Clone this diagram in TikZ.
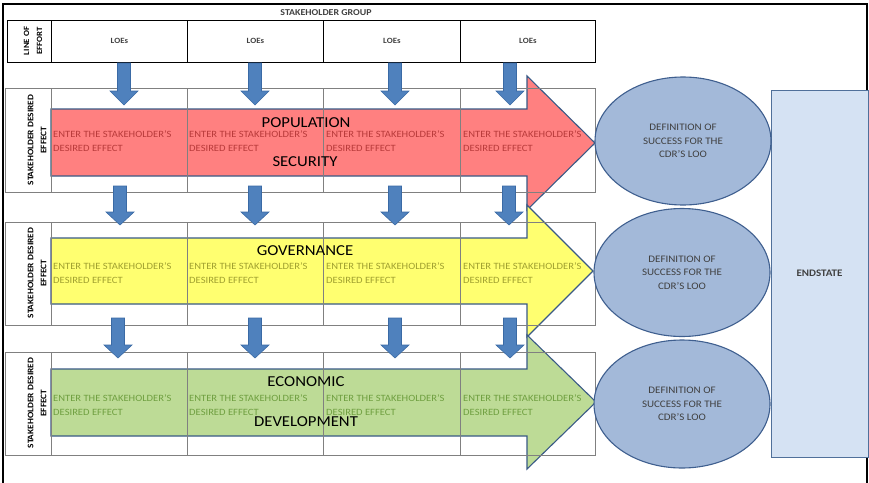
\documentclass[tikz,border=0pt]{standalone}
\usepackage{fontspec}
\setmainfont{Carlito}[FakeStretch=1.1]
\usetikzlibrary{shapes.geometric}
\definecolor{redfill}{HTML}{FF8080}
\definecolor{redtext}{HTML}{B83A3A}
\definecolor{yelfill}{HTML}{FFFF70}
\definecolor{yeltext}{HTML}{A0A030}
\definecolor{grnfill}{HTML}{BDDB96}
\definecolor{grntext}{HTML}{6F9F40}
\definecolor{arrborder}{HTML}{3A5A86}
\definecolor{bluefill}{HTML}{4F81BD}
\definecolor{blueline}{HTML}{3A6AA5}
\definecolor{loofill}{HTML}{A3B9D9}
\definecolor{looline}{HTML}{3F5F8F}
\definecolor{endfill}{HTML}{D5E2F3}
\definecolor{endline}{HTML}{50709A}
\definecolor{gridgray}{HTML}{808080}
\definecolor{darktext}{HTML}{404040}
\newcommand\bluedown[4]{\filldraw[bluearr] ({#1-6.5},#2) -- ({#1+6.5},#2) -- ({#1+6.5},#3) -- ({#1+14},#3) -- (#1,#4) -- ({#1-14},#3) -- ({#1-6.5},#3) -- cycle;}
\begin{document}
\begin{tikzpicture}[x=1pt,y=-1pt,
  frame/.style={draw=black,line width=1.3pt},
  hdrcell/.style={draw=black,line width=0.8pt,minimum height=42pt,inner sep=0pt,anchor=north west,
     font=\fontsize{8}{10}\selectfont\bfseries,text=darktext},
  grid/.style={draw=gridgray,line width=0.7pt},
  bigarrow/.style={draw=arrborder,line width=1.1pt,line join=miter},
  bluearr/.style={fill=bluefill,draw=blueline,line width=0.6pt},
  loo/.style={ellipse,draw=looline,line width=1.1pt,fill=loofill,minimum width=176pt,minimum height=128pt,
     inner sep=0pt,align=center,text=darktext,font=\fontsize{10}{13.3}\selectfont},
  endbox/.style={draw=endline,line width=1pt,fill=endfill,minimum width=97pt,minimum height=367pt,inner sep=0pt,
     font=\fontsize{10}{12}\selectfont\bfseries,text=darktext},
  celltext/.style={anchor=west,inner sep=0pt,align=left,font=\fontsize{9.6}{14}\selectfont},
  biglabel/.style={inner sep=0pt,font=\fontsize{15.2}{18}\selectfont,text=black},
  rotlabel/.style={rotate=90,inner sep=0pt,align=center,font=\fontsize{8.5}{13}\selectfont\bfseries,text=black},
]
\useasboundingbox (0,0) rectangle (869,482);
\fill[white] (0,0) rectangle (869,482);
% outer frame
\draw[frame] (3,4) rectangle (867,495);
% header
\node[inner sep=0pt,font=\fontsize{9}{11}\selectfont\bfseries,text=darktext] (grp) at (326,13) {STAKEHOLDER GROUP};
\node[hdrcell,minimum width=44pt,line width=1.1pt] (loe) at (7,20) {};
\node[hdrcell,minimum width=136pt] (h1) at (51,20) {LOEs};
\node[hdrcell,minimum width=136pt] (h2) at (187,20) {LOEs};
\node[hdrcell,minimum width=137pt] (h3) at (323,20) {LOEs};
\node[hdrcell,minimum width=135pt] (h4) at (460,20) {LOEs};
\node[rotlabel,font=\fontsize{8}{13}\selectfont\bfseries] (loelbl) at (33,41) {LINE OF\\EFFORT};
% big arrows
\filldraw[bigarrow,fill=redfill] (51,109) -- (527,109) -- (527,76) -- (595,143) -- (527,210) -- (527,176) -- (51,176) -- cycle;
\filldraw[bigarrow,fill=yelfill] (51,238) -- (527,238) -- (527,205) -- (593,271) -- (527,337) -- (527,304) -- (51,304) -- cycle;
\filldraw[bigarrow,fill=grnfill] (51,369) -- (527,369) -- (527,335) -- (596,402) -- (527,469) -- (527,436) -- (51,436) -- cycle;
% row grids
\foreach \t/\b in {88/192,222/325,352/455}{
  \draw[grid] (5,\t) rectangle (595,\b);
  \foreach \c in {51,187,323,460} \draw[grid] (\c,\t) -- (\c,\b);
}
% row labels
\node[rotlabel] (r1lbl) at (37,140) {STAKEHOLDER DESIRED\\EFFECT};
\node[rotlabel] (r2lbl) at (37,273) {STAKEHOLDER DESIRED\\EFFECT};
\node[rotlabel] (r3lbl) at (37,403) {STAKEHOLDER DESIRED\\EFFECT};
% blue arrows
\foreach \x in {124,255,395,510} {\bluedown{\x}{63}{91}{105}}
\foreach \x in {120,255,395,509} {\bluedown{\x}{186}{212}{225}}
\foreach \x in {118,255,395,510} {\bluedown{\x}{318}{345}{358}}
% cell texts
\foreach \c [count=\i] in {53,189,326,463}{
  \node[celltext,text=redtext] (ra\i) at (\c,141) {ENTER THE STAKEHOLDER'S\\DESIRED EFFECT};
  \node[celltext,text=yeltext] (ya\i) at (\c,273) {ENTER THE STAKEHOLDER'S\\DESIRED EFFECT};
  \node[celltext,text=grntext] (ga\i) at (\c,405) {ENTER THE STAKEHOLDER'S\\DESIRED EFFECT};
}
% big labels
\node[biglabel] (pop) at (306,123) {POPULATION};
\node[biglabel] (sec) at (305,162) {SECURITY};
\node[biglabel] (gov) at (305,251) {GOVERNANCE};
\node[biglabel] (eco) at (306,382) {ECONOMIC};
\node[biglabel] (dev) at (306,422) {DEVELOPMENT};
% ellipses and endstate
\node[endbox] (end) at (819.5,273.5) {ENDSTATE};
\node[loo] (e1) at (683,141) {DEFINITION OF\\SUCCESS FOR THE\\CDR'S LOO};
\node[loo] (e2) at (682,272.5) {DEFINITION OF\\SUCCESS FOR THE\\CDR'S LOO};
\node[loo] (e3) at (682,404) {DEFINITION OF\\SUCCESS FOR THE\\CDR'S LOO};
\end{tikzpicture}
\end{document}
